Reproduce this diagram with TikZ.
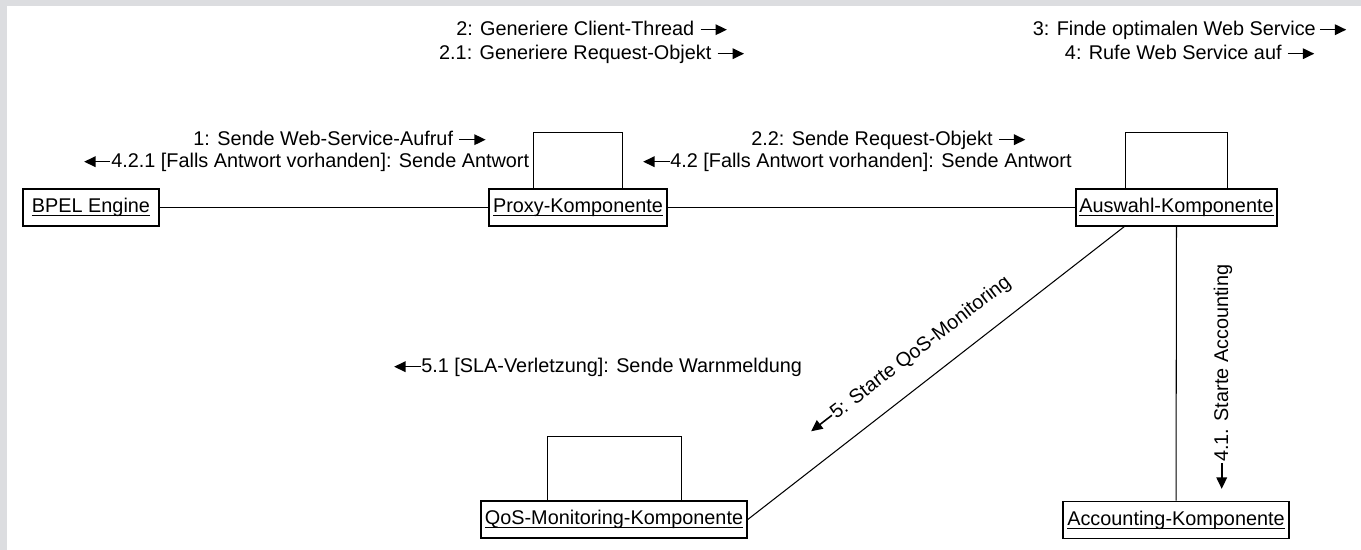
\documentclass[tikz,border=0pt]{standalone}
\usepackage{amsmath}
\usepackage{fontspec}
\setmainfont{Liberation Sans}
\usetikzlibrary{arrows.meta}
\definecolor{rahmen}{HTML}{DCDDE0}
\newcommand{\rpfeil}{\tikz[baseline=-0.6ex]\draw[line width=0.9pt,-{Triangle[length=6.5pt,width=6pt]}] (0,0) -- (15pt,0);}
\newcommand{\lpfeil}{\tikz[baseline=-0.6ex]\draw[line width=0.9pt,{Triangle[length=6.5pt,width=6pt]}-] (0,0) -- (15pt,0);}
\newcommand{\objname}[1]{\underline{\smash[b]{#1}}}

\begin{document}
\begin{tikzpicture}[x=0.02cm,y=0.02cm,
    komp/.style={draw,line width=0.9pt,minimum height=0.74cm,inner xsep=2pt,inner ysep=0pt},
    verb/.style={line width=0.6pt},
    nachricht/.style={inner sep=0pt,anchor=base west},
    font=\fontsize{11.3}{13.6}\selectfont]

    % Rahmen
    \useasboundingbox (0,0) rectangle (1361,550);
    \fill[rahmen] (0,0) rectangle (1361,550);
    \fill[white] (7,0) rectangle (1361,544);

    % Komponenten
    \node[komp,minimum width=2.72cm] (bpel) at (91,342.5) {\objname{BPEL Engine}};
    \node[komp,minimum width=3.56cm] (proxy) at (578,342.5) {\objname{Proxy-Komponente}};
    \node[komp,minimum width=4.02cm] (auswahl) at (1176.5,342.5) {\objname{Auswahl-Komponente}};
    \node[komp,minimum width=5.32cm] (qos) at (614,30.5) {\objname{QoS-Monitoring-Komponente}};
    \node[komp,minimum width=4.52cm] (acc) at (1176,30) {\objname{Accounting-Komponente}};

    % Verbindungen
    \draw[verb] (bpel) -- (proxy);
    \draw[verb] (proxy) -- (auswahl);
    \draw[verb] (auswahl) -- (acc);
    \draw[verb] ([xshift=0.98cm]auswahl.south west) -- (qos.east);

    % Selbstaufrufe
    \draw[verb] ([xshift=0.9cm]proxy.north west) |- ++(0,56) -| ([xshift=-0.9cm]proxy.north east);
    \draw[verb] ([xshift=1cm]auswahl.north west) |- ++(0,56) -| ([xshift=-1cm]auswahl.north east);
    \draw[verb] ([xshift=1.34cm]qos.north west) |- ++(0,64) -| ([xshift=-1.32cm]qos.north east);

    % Nachrichten
    \node[nachricht,anchor=base] (m2) at (592,514) {2: Generiere Client-Thread \rpfeil};
    \node[nachricht,anchor=base] (m21) at (592,490) {2.1: Generiere Request-Objekt \rpfeil};
    \node[nachricht,anchor=base] (m3) at (1190,514) {3: Finde optimalen Web Service\,\rpfeil};
    \node[nachricht,anchor=base] (m4) at (1190,490) {4: Rufe Web Service auf \rpfeil};
    \node[nachricht] (m1) at (193,404) {1: Sende Web-Service-Aufruf \rpfeil};
    \node[nachricht] (m421) at (83,382) {\lpfeil4.2.1 [Falls Antwort vorhanden]: Sende Antwort};
    \node[nachricht] (m22) at (751,404) {2.2: Sende Request-Objekt \rpfeil};
    \node[nachricht] (m42) at (642,382) {\lpfeil4.2 [Falls Antwort vorhanden]: Sende Antwort};
    \node[nachricht] (m51) at (393,177) {\lpfeil5.1 [SLA-Verletzung]: Sende Warnmeldung};
    \node[nachricht,rotate=37.6] (m5) at (814,113) {\lpfeil5: Starte QoS-Monitoring};
    \node[nachricht,rotate=90] (m41) at (1228,60) {\lpfeil4.1. Starte Accounting};
\end{tikzpicture}
\end{document}
